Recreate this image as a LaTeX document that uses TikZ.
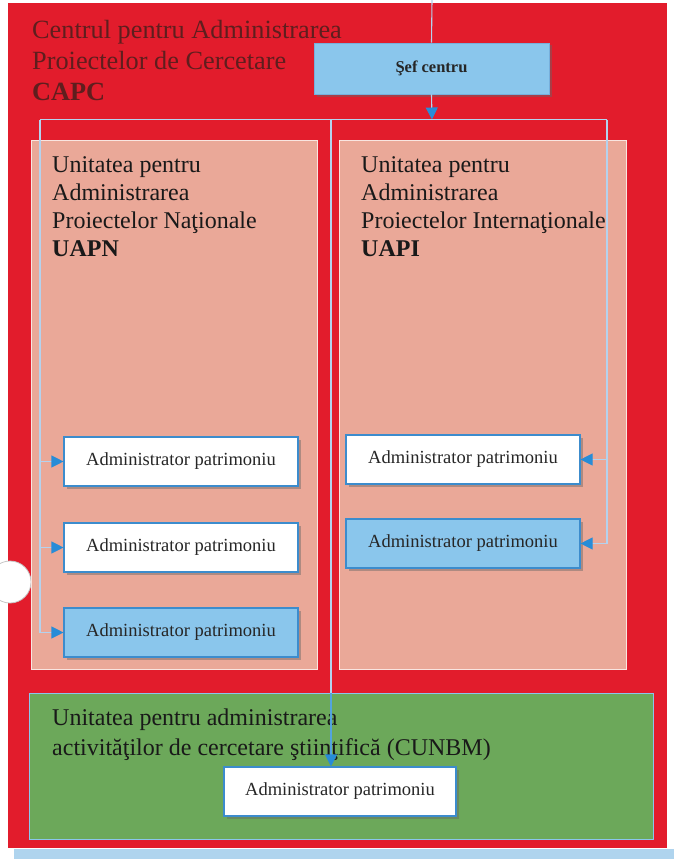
\documentclass[tikz,border=0pt]{standalone}
\usepackage{fontspec}
\setmainfont{Liberation Serif}
\usetikzlibrary{arrows.meta,shadows}
\definecolor{capred}{RGB}{226,28,44}
\definecolor{salmon}{RGB}{234,168,152}
\definecolor{lblue}{RGB}{138,198,236}
\definecolor{gbox}{RGB}{108,168,90}
\definecolor{bord}{RGB}{60,140,205}
\definecolor{linec}{RGB}{180,210,238}
\definecolor{arrowc}{RGB}{40,140,215}
\definecolor{titlec}{RGB}{95,30,30}
\definecolor{strip}{RGB}{175,212,238}
\begin{document}
\begin{tikzpicture}[x=1pt,y=-1pt,
  unit/.style={draw=white!70!salmon, line width=1pt, fill=salmon, inner sep=0pt},
  adminbox/.style={draw=bord, line width=1.1pt, minimum width=234pt, minimum height=49pt,
    inner sep=0pt, font=\fontsize{18.5}{20}\selectfont, text=black!85,
    drop shadow={shadow xshift=2.5pt,shadow yshift=-2.5pt,opacity=0.45,fill=black!60}},
  wbox/.style={adminbox, fill=white},
  bbox/.style={adminbox, fill=lblue},
  conn/.style={draw=linec, line width=1.1pt},
  arr/.style={-{Triangle[length=12pt,width=12pt,color=arrowc]}},
  heading/.style={anchor=north west, inner sep=0pt, align=left, text=black!90,
    font=\fontsize{24}{28.3}\selectfont}
]
\useasboundingbox (0,0) rectangle (674,859);
% background
\fill[white] (0,0) rectangle (674,859);
\fill[strip] (14,849) rectangle (674,859);
\fill[capred] (8,3) rectangle (667,848);
% hole
\filldraw[fill=white, draw=gray!45, line width=0.8pt] (10,582) circle (21);

% title
\node[anchor=north west, inner sep=0pt, align=left, text=titlec,
  font=\fontsize{26.3}{31}\selectfont] (title) at (32,20)
  {Centrul pentru Administrarea\\Proiectelor de Cercetare\\\textbf{CAPC}};

% units
\node[unit, minimum width=286pt, minimum height=529pt] (uapn) at (174,404.5) {};
\node[unit, minimum width=287pt, minimum height=529pt] (uapi) at (482.5,404.5) {};
\node[draw=lblue, line width=1pt, fill=gbox, minimum width=624pt, minimum height=146pt,
  inner sep=0pt] (cunbm) at (341,766) {};

\node[heading] (uapnt) at (52,156)
  {Unitatea pentru\\Administrarea\\Proiectelor Naţionale\\\textbf{UAPN}};
\node[heading] (uapit) at (361,156)
  {Unitatea pentru\\Administrarea\\Proiectelor Internaţionale\\\textbf{UAPI}};
\node[heading, font=\fontsize{24}{30}\selectfont] (cunbmt) at (52,708.5)
  {Unitatea pentru administrarea\\activităţilor de cercetare ştiinţifică (CUNBM)};

% chief
\node[draw=bord!70, line width=0.8pt, fill=lblue, minimum width=235pt, minimum height=51pt,
  inner sep=0pt, font=\fontsize{16.5}{18}\selectfont\bfseries, text=black!85,
  drop shadow={shadow xshift=2.5pt,shadow yshift=-2.5pt,opacity=0.45,fill=black!60}] (sef) at (431.5,68.5)
  {Şef centru};

% admin boxes
\node[wbox] (l1) at (181,461.5) {Administrator patrimoniu};
\node[wbox] (l2) at (181,547.5) {Administrator patrimoniu};
\node[bbox] (l3) at (181,632.5) {Administrator patrimoniu};
\node[wbox] (r1) at (463,459.5) {Administrator patrimoniu};
\node[bbox] (r2) at (463,543.5) {Administrator patrimoniu};
\node[wbox, minimum width=232pt] (g1) at (340,791.5) {Administrator patrimoniu};

% connectors
\coordinate (top) at (432,0);
\coordinate (hub) at (432,119.5);
\coordinate (L) at (40,119.5);
\coordinate (R) at (607,119.5);
\coordinate (M) at (331,119.5);

\draw[conn] (top) -- (sef.north);
\draw[conn, arr] (sef.south) -- (hub);
\draw[conn] (L) -- (R);
\draw[conn, arr] (L) |- (l1.west);
\draw[conn, arr] (L) |- (l2.west);
\draw[conn, arr] (L) |- (l3.west);
\draw[conn, arr] (R) |- (r1.east);
\draw[conn, arr] (R) |- (r2.east);
\draw[conn] (M) -- (M |- cunbm.north);
\draw[conn, draw=arrowc!80, arr] (M |- cunbm.north) -- (M |- g1.north);
\end{tikzpicture}
\end{document}
